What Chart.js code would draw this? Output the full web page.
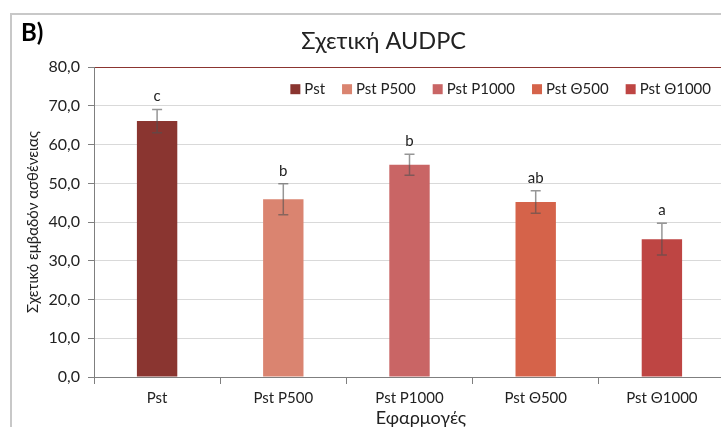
<!DOCTYPE html>
<html>
<head>
<meta charset="utf-8">
<script src="https://cdn.jsdelivr.net/npm/chart.js@4.4.1/dist/chart.umd.min.js"></script>
<style>
  html, body { margin: 0; padding: 0; background: #fff; overflow: hidden; width: 721px; height: 427px; }
  #frame { position: absolute; left: 10px; top: 13px; width: 800px; height: 600px;
           border-left: 2px solid #c8c8c8; border-top: 2px solid #c8c8c8; }
  #wrap { position: absolute; left: 0; top: 0; width: 740px; height: 437px; }
</style>
</head>
<body>
<div id="frame"></div>
<div id="wrap"><canvas id="bars"></canvas></div>
<script>
var categories = ['Pst', 'Pst P500', 'Pst P1000', 'Pst Θ500', 'Pst Θ1000'];
var values = [66.1, 45.9, 54.8, 45.2, 35.6];
var errors = [3.0, 4.0, 2.7, 2.9, 4.1];
var letters = ['c', 'b', 'b', 'ab', 'a'];
var yTicks = [0, 10, 20, 30, 40, 50, 60, 70, 80];
var colors = ['#8a3530', '#da8470', '#c96565', '#d5634a', '#be4543'];

var FONT = 'Lato';
var TEXT = '#222';

// error bars, significance letters, legend inside the plot, panel letter
var extras = {
  id: 'extras',
  afterDatasetsDraw: function (chart) {
    var c = chart.ctx, x = chart.scales.x, y = chart.scales.y, area = chart.chartArea;
    c.save();
    values.forEach(function (v, i) {
      var px = x.getPixelForValue(i);
      var top = y.getPixelForValue(v + errors[i]);
      var bot = y.getPixelForValue(v - errors[i]);
      c.strokeStyle = 'rgba(80,80,80,0.6)';
      c.lineWidth = 1.5;
      c.beginPath();
      c.moveTo(px, top); c.lineTo(px, bot);
      c.moveTo(px - 5, top); c.lineTo(px + 5, top);
      c.moveTo(px - 5, bot); c.lineTo(px + 5, bot);
      c.stroke();
      c.fillStyle = TEXT;
      c.font = '15px ' + FONT;
      c.textAlign = 'center';
      c.textBaseline = 'middle';
      c.fillText(letters[i], px, top - 13);
    });

    // legend
    c.font = '15px ' + FONT;
    c.textAlign = 'left';
    var box = 10, gap = 4, space = 17;
    var widths = categories.map(function (t) { return c.measureText(t).width; });
    var total = widths.reduce(function (a, w) { return a + box + gap + w; }, 0) + space * (categories.length - 1);
    var lx = area.right - 14 - total, ly = area.top + 22;
    categories.forEach(function (t, i) {
      c.fillStyle = colors[i];
      c.fillRect(lx, ly - box / 2, box, box);
      c.fillStyle = TEXT;
      c.fillText(t, lx + box + gap, ly);
      lx += box + gap + widths[i] + space;
    });

    c.font = 'bold 24px ' + FONT;
    c.fillStyle = '#000';
    c.fillText('B)', 21, 33);
    c.restore();
  }
};

new Chart(document.getElementById('bars'), {
  type: 'bar',
  data: {
    labels: categories,
    datasets: [{
      data: values,
      backgroundColor: colors,
      barPercentage: 0.32,
      categoryPercentage: 1
    }]
  },
  options: {
    responsive: true,
    maintainAspectRatio: false,
    animation: false,
    layout: { padding: { right: 15 } },
    plugins: {
      legend: { display: false },
      tooltip: { enabled: false },
      title: {
        display: true,
        text: '       Σχετική AUDPC',
        color: TEXT,
        font: { family: FONT, size: 23.5, weight: 'normal' },
        padding: { top: 27, bottom: 12 }
      }
    },
    scales: {
      x: {
        afterFit: function (s) { s.height = 60; },
        grid: { drawOnChartArea: false, tickLength: 7, color: '#7f7f7f' },
        border: { color: '#7f7f7f' },
        ticks: { color: TEXT, padding: 5, font: { family: FONT, size: 15 } },
        title: {
          display: true,
          text: '     Εφαρμογές',
          color: TEXT,
          font: { family: FONT, size: 18 },
          padding: { top: 0, bottom: 8 }
        }
      },
      y: {
        min: 0,
        max: 80,
        afterBuildTicks: function (s) { s.ticks = yTicks.map(function (v) { return { value: v }; }); },
        afterFit: function (s) { s.width = 94; },
        grid: {
          color: function (ctx) { return ctx.tick && ctx.tick.value === 80 ? '#8b3530' : '#d9d9d9'; },
          tickColor: '#7f7f7f',
          tickLength: 6
        },
        border: { color: '#7f7f7f' },
        ticks: {
          color: TEXT,
          padding: 8,
          font: { family: FONT, size: 16 },
          callback: function (v) { return v.toFixed(1).replace('.', ','); }
        },
        title: {
          display: true,
          text: 'Σχετικό εμβαδόν ασθένειας',
          color: TEXT,
          font: { family: FONT, size: 15 },
          padding: { top: 24, bottom: 0 }
        }
      }
    }
  },
  plugins: [extras]
});
</script>
</body>
</html>
